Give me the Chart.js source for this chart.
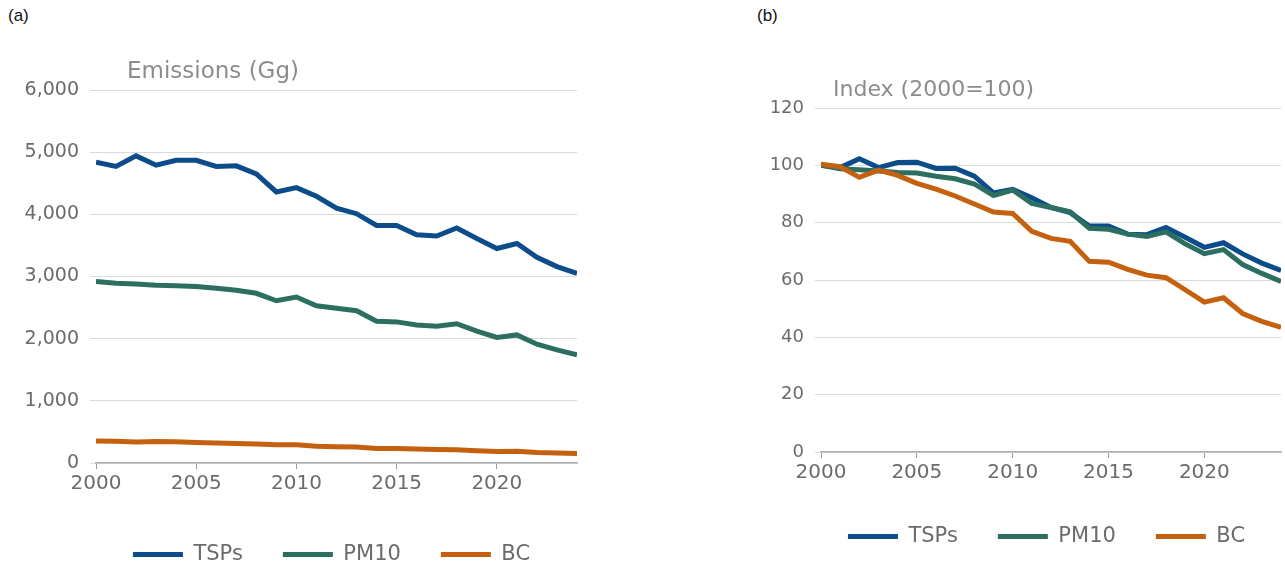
<!DOCTYPE html>
<html>
<head>
<meta charset="utf-8">
<script src="https://cdn.jsdelivr.net/npm/chart.js@4.4.1/dist/chart.umd.min.js"></script>
<style>
    html, body { margin: 0; padding: 0; background: #fff; overflow: hidden; width: 1285px; height: 570px; }
    .panel { position: absolute; top: 0; height: 580px; }
    .tag { position: absolute; top: 6px; font: 17px "Liberation Sans", Arial, sans-serif; color: #111; }
</style>
</head>
<body>
<div class="tag" style="left: 8px">(a)</div>
<div class="tag" style="left: 757px">(b)</div>
<div class="panel" style="left: 0; width: 600px"><canvas id="emissionsChart"></canvas></div>
<div class="panel" style="left: 640px; width: 645px"><canvas id="indexChart"></canvas></div>

<script>
// data
const years = [2000, 2001, 2002, 2003, 2004, 2005, 2006, 2007, 2008, 2009, 2010, 2011, 2012,
    2013, 2014, 2015, 2016, 2017, 2018, 2019, 2020, 2021, 2022, 2023, 2024];
const seriesNames = ["TSPs", "PM10", "BC"];

const tspsGg = [4840, 4770, 4940, 4790, 4870, 4870, 4770, 4780, 4650, 4360, 4430, 4290, 4100,
    4010, 3820, 3820, 3670, 3650, 3780, 3610, 3450, 3530, 3310, 3160, 3050];
const pm10Gg = [2920, 2890, 2880, 2860, 2850, 2840, 2810, 2780, 2730, 2610, 2670, 2530, 2490,
    2450, 2280, 2270, 2220, 2200, 2240, 2120, 2020, 2060, 1910, 1820, 1740];
const bcGg = [352, 350, 337, 346, 340, 330, 323, 314, 304, 294, 292, 271, 262,
    258, 234, 233, 224, 217, 214, 199, 184, 189, 170, 160, 153];

const tspsIdx = [100, 99.2, 102.3, 99.2, 101, 101.1, 98.9, 99, 96.2, 90.4, 91.6, 88.7, 85.3,
    83.5, 78.8, 78.8, 76, 75.8, 78.3, 74.9, 71.4, 73, 69.1, 65.9, 63.3];
const pm10Idx = [100, 98.8, 98.5, 98, 97.5, 97.3, 96.2, 95.3, 93.5, 89.5, 91.4, 86.7, 85.3,
    83.8, 78, 77.7, 76, 75.2, 76.8, 72.6, 69.2, 70.6, 65.4, 62.3, 59.5];
const bcIdx = [100.4, 99.5, 95.8, 98.3, 96.5, 93.7, 91.7, 89.3, 86.5, 83.7, 83.2, 77, 74.5,
    73.5, 66.5, 66.2, 63.7, 61.7, 60.8, 56.6, 52.3, 53.8, 48.3, 45.6, 43.5];

const xTicks = [2000, 2005, 2010, 2015, 2020];
const yTicksGg = [0, 1000, 2000, 3000, 4000, 5000, 6000];
const yTicksIdx = [0, 20, 40, 60, 80, 100, 120];

const colors = ["#0D4C8B", "#2C6E60", "#C5610E"];
const FONT = "'DejaVu Sans', sans-serif";

// grey unit label above the plot + nudge the legend sideways
const panelExtras = {
    id: "panelExtras",
    afterLayout(chart, args, opts) {
        chart.legend.left += opts.legendShift;
        chart.legend.right += opts.legendShift;
    },
    afterDraw(chart, args, opts) {
        const { ctx, chartArea } = chart;
        ctx.save();
        ctx.font = opts.size + "px " + FONT;
        ctx.fillStyle = "#8c8c8c";
        ctx.textBaseline = "middle";
        ctx.fillText(opts.text, chartArea.left + opts.dx, chartArea.top - 18);
        ctx.restore();
    },
};

function makeChart(id, values, yTicks, cfg) {
    const ctx = document.getElementById(id).getContext("2d");
    return new Chart(ctx, {
        type: "line",
        data: {
            datasets: values.map((vals, i) => ({
                label: seriesNames[i],
                data: years.map((y, j) => ({ x: y, y: vals[j] })),
                borderColor: colors[i],
                backgroundColor: colors[i],
                borderWidth: 5,
                pointRadius: 0,
                tension: 0,
                order: 3 - i,
            })),
        },
        plugins: [panelExtras],
        options: {
            responsive: true,
            maintainAspectRatio: false,
            animation: false,
            layout: { padding: cfg.padding },
            plugins: {
                panelExtras: {
                    text: cfg.title,
                    size: cfg.titleSize,
                    dx: cfg.titleDx,
                    legendShift: cfg.legendShift,
                },
                tooltip: { enabled: false },
                legend: {
                    position: "bottom",
                    labels: {
                        usePointStyle: true,
                        pointStyle: "line",
                        pointStyleWidth: 50,
                        padding: 40,
                        color: "#6b6b6b",
                        font: { family: FONT, size: 21 },
                        sort: (a, b) => a.datasetIndex - b.datasetIndex,
                    },
                },
            },
            scales: {
                x: {
                    type: "linear",
                    min: 2000,
                    max: 2024,
                    afterBuildTicks: (s) => { s.ticks = xTicks.map((v) => ({ value: v })); },
                    afterFit: (s) => { s.height = cfg.xHeight; },
                    ticks: {
                        padding: 3,
                        maxRotation: 0,
                        color: "#6b6b6b",
                        font: { family: FONT, size: 20 },
                        callback: (v) => String(v),
                    },
                    grid: { drawOnChartArea: false, tickLength: 6, color: "#9a9a9a" },
                    border: { color: "#b0b0b0", width: 1.5 },
                },
                y: {
                    min: yTicks[0],
                    max: yTicks[yTicks.length - 1],
                    afterBuildTicks: (s) => { s.ticks = yTicks.map((v) => ({ value: v })); },
                    afterFit: (s) => { s.width = cfg.yWidth; },
                    ticks: {
                        padding: 11,
                        color: "#6b6b6b",
                        font: { family: FONT, size: cfg.yFontSize },
                    },
                    grid: { color: "#dadada", tickLength: 6 },
                    border: { display: false },
                },
            },
        },
    });
}

makeChart("emissionsChart", [tspsGg, pm10Gg, bcGg], yTicksGg, {
    title: "Emissions (Gg)",
    titleSize: 23,
    titleDx: 31,
    padding: { left: 0, right: 23, top: 90, bottom: 5 },
    yWidth: 96,
    yFontSize: 19,
    xHeight: 41,
    legendShift: 43,
});

makeChart("indexChart", [tspsIdx, pm10Idx, bcIdx], yTicksIdx, {
    title: "Index (2000=100)",
    titleSize: 22,
    titleDx: 12,
    padding: { left: 0, right: 4, top: 108, bottom: 23 },
    yWidth: 181,
    yFontSize: 18,
    xHeight: 34,
    legendShift: 86,
});
</script>
</body>
</html>
